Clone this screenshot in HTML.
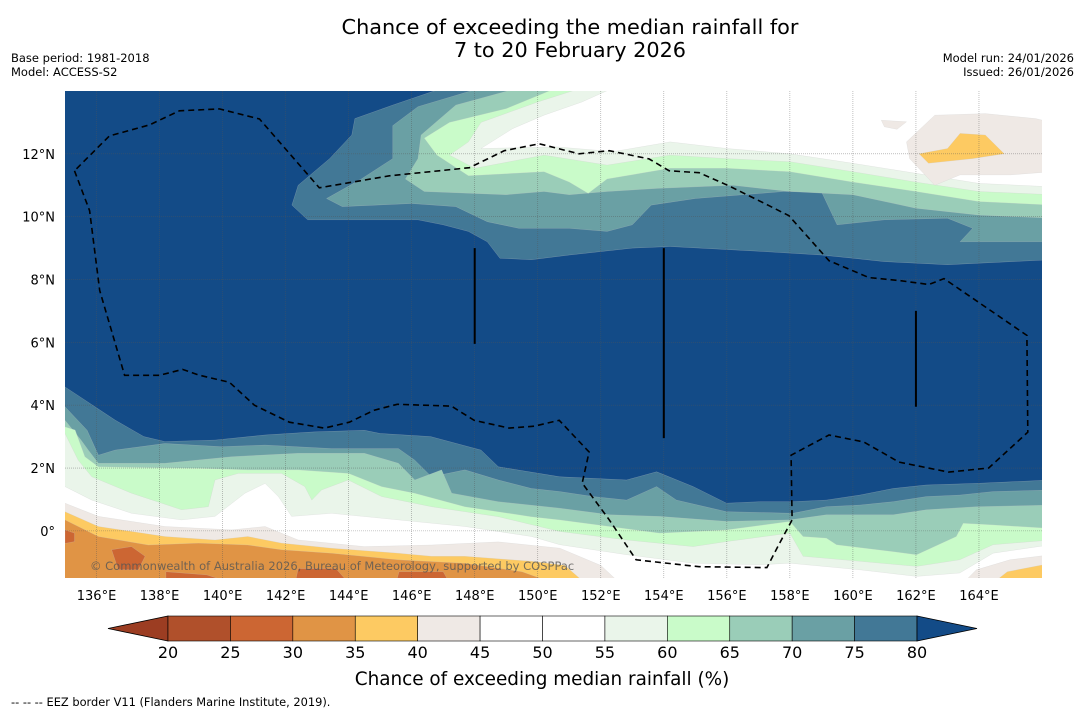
<!DOCTYPE html>
<html><head><meta charset="utf-8"><style>
body{margin:0;background:#fff;}
svg text{font-family:"DejaVu Sans","Liberation Sans",sans-serif;}
</style></head><body>
<svg id="c" width="1085" height="713" viewBox="0 0 1085 713" xmlns="http://www.w3.org/2000/svg">
<text x="570" y="34" font-size="20.8" text-anchor="middle">Chance of exceeding the median rainfall for</text>
<text x="570" y="57" font-size="20.8" text-anchor="middle">7 to 20 February 2026</text>
<text x="11" y="62" font-size="11.5">Base period: 1981-2018</text>
<text x="11" y="76" font-size="11.5">Model: ACCESS-S2</text>
<text x="1074" y="62" font-size="11.5" text-anchor="end">Model run: 24/01/2026</text>
<text x="1074" y="76" font-size="11.5" text-anchor="end">Issued: 26/01/2026</text>
<defs><clipPath id="mc"><rect x="65" y="91" width="977" height="487"/></clipPath></defs>
<g id="map" clip-path="url(#mc)"></g>
<g id="axes"></g>
<g id="cbar"></g>
<text x="542" y="685" font-size="18.4" text-anchor="middle">Chance of exceeding median rainfall (%)</text>
<text x="11" y="706" font-size="11.4">--  --  -- EEZ border V11 (Flanders Marine Institute, 2019).</text>
</svg>
<script>
const bandLabels=[20,25,30,35,40,45,50,55,60,65,70,75,80];
const bandColors=["#b0502b","#cc6633","#e09445","#fdca62","#efe9e5","#ffffff","#ffffff","#eaf5ea","#c9fbc9","#9acdb8","#6aa0a4","#427896"];
const lonTicks=[136,138,140,142,144,146,148,150,152,154,156,158,160,162,164];
const latTicks=[12,10,8,6,4,2,0];
// north contours [lon,lat]
const N80=[[147,14.1],[145.4,13.55],[144.2,13.12],[144.1,12.6],[143.4,11.85],[142.4,11.0],[142.2,10.37],[142.7,9.9],[146.2,9.9],[147,9.74],[147.8,9.53],[148.4,9.2],[148.8,8.68],[149.8,8.63],[151,8.78],[153,9.0],[154.2,9.05],[157,8.9],[159,8.78],[160,8.68],[161,8.57],[163,8.47],[166.3,8.63]];
const N75=[[148.2,14.1],[146.2,13.5],[145.4,12.9],[145.4,11.85],[144.4,11.2],[143.3,10.58],[143.8,10.32],[146,10.42],[147.4,10.32],[148.4,9.84],[149.4,9.63],[151,9.63],[152.2,9.53],[153,9.74],[153.6,10.37],[155,10.58],[157.8,10.8],[159,10.8],[159.5,9.74],[161,9.9],[163,9.95],[163.8,9.63],[163.4,9.2],[166.3,9.2]];
const N70=[[149.4,14.1],[147.4,13.55],[146.3,12.6],[146.2,11.85],[145.8,11.2],[146.4,10.8],[149,10.7],[150.2,10.8],[151,10.7],[152.2,10.8],[153.8,10.9],[156.2,11.0],[158,10.8],[160,10.7],[162,10.27],[164,10.05],[166.3,9.95]];
const N65=[[150.6,14.1],[149,13.44],[147.2,13.0],[146.4,12.5],[146.8,11.96],[147.8,11.3],[150.2,11.43],[151,11.1],[151.6,10.74],[152.2,11.2],[154.2,11.54],[156,11.54],[158,11.43],[160,11.1],[162,10.8],[164,10.48],[166.3,10.37]];
const N60=[[151.4,14.1],[150,13.65],[148.2,13.0],[147.8,12.38],[147.2,11.96],[148,11.54],[150.2,11.96],[152.2,11.64],[154.2,11.96],[156,11.85],[158,11.75],[160,11.43],[162,11.1],[164,10.8],[166.3,10.7]];
const N55=[[152.4,14.1],[151.4,13.65],[150.2,13.23],[149.2,12.8],[148.2,12.17],[150.6,12.22],[152.4,12.07],[154.2,12.38],[156,12.17],[158,12.0],[160,11.7],[162,11.38],[164,11.06],[166.3,10.95]];
const N45a=[[162.6,13.23],[164.2,13.28],[165.8,13.12],[166.3,13.0],[166.3,11.43],[165,11.33],[163.4,11.33],[162.6,11.0],[161.8,11.85],[161.7,12.38]];
const N45b=[[160.9,13.07],[161.7,13.02],[161.4,12.78],[161,12.86]];
const N40=[[163.4,12.65],[164.2,12.6],[164.8,12.0],[163.8,11.85],[162.4,11.7],[162.1,12.0],[163,12.17]];
// south contours
const S80=[[135,4.58],[135.8,4.05],[136.6,3.52],[137.5,3.0],[138.17,2.84],[139.76,2.89],[141.35,3.05],[142.9,3.15],[144.5,3.2],[145,3.1],[146.6,3.0],[148.2,2.57],[148.75,2.04],[150.7,1.72],[151.76,1.67],[152.82,1.62],[153.77,1.88],[154.93,1.41],[155.99,0.88],[157.05,0.93],[158.1,0.93],[159.16,0.98],[160.22,1.14],[161.28,1.35],[162.33,1.46],[163.92,1.51],[166.3,1.62]];
const S75=[[135,3.95],[135.7,3.2],[136.06,2.41],[136.59,2.57],[138.17,2.78],[139.97,2.68],[141.35,2.73],[143.46,2.62],[145.58,2.62],[146.1,2.25],[146.63,1.72],[147.69,1.94],[148.75,1.62],[149.8,1.35],[150.7,1.25],[151.76,1.09],[152.82,0.98],[153.77,1.41],[154.4,0.98],[155.99,0.61],[158.1,0.56],[159.16,0.77],[160.22,0.82],[161.28,0.93],[162.33,1.09],[163.39,1.14],[164.45,1.25],[166.3,1.3]];
const S70=[[135,3.52],[135.5,2.9],[135.74,2.57],[136.06,2.15],[138.17,2.15],[140.29,2.36],[142.4,2.47],[144.5,2.47],[145.58,2.15],[146.1,1.62],[146.95,1.94],[147.27,1.2],[148.75,0.93],[150.7,0.72],[152.29,0.51],[153.87,0.46],[155.99,0.3],[158,0.35],[159.16,0.51],[161.28,0.51],[162.33,0.67],[163.92,0.77],[166.3,0.82]];
const S65=[[135,3.31],[135.32,3.21],[135.63,2.36],[136.06,2.04],[139.23,1.99],[140.8,1.94],[142.4,1.94],[144,1.83],[145.05,1.41],[146.1,1.2],[147.69,0.77],[149.8,0.45],[150.7,0.35],[152.29,0.14],[153.87,-0.07],[155.99,0.03],[158,0.3],[158.42,-0.18],[159.16,-0.23],[159.48,-0.44],[161.28,-0.66],[162.02,-0.76],[163.28,-0.18],[163.5,0.24],[164.45,0.19],[166.3,0.08]];
const S60=[[135,3.1],[135.42,2.25],[135.85,1.72],[137.11,1.2],[138.7,0.67],[139.55,0.77],[139.76,1.62],[140.5,1.83],[141.87,1.83],[142.61,1.41],[142.83,0.98],[143.14,1.3],[143.99,1.62],[145.05,1.09],[146.63,0.77],[148.75,0.45],[150.7,-0.02],[152.82,-0.29],[154.93,-0.5],[155.99,-0.34],[158,-0.07],[158.42,-0.81],[160.22,-0.97],[162.02,-1.13],[163.39,-0.92],[164.45,-0.44],[166.3,-0.29]];
const S55=[[135,1.41],[135.85,0.98],[137.11,0.56],[138.7,0.35],[139.76,0.46],[140.71,1.2],[141.35,1.51],[141.77,1.09],[142.19,0.46],[143.46,0.56],[145.58,0.35],[147.69,0.14],[149.8,-0.18],[150.7,-0.44],[152.82,-0.76],[154.93,-1.03],[157.05,-1.08],[158,-1.03],[160.22,-1.24],[162.02,-1.45],[163.39,-1.34],[164.45,-0.71],[166.3,-0.44]];
const S45=[[135,0.88],[136.06,0.46],[138.17,0.14],[140.29,0.03],[141.35,0.14],[142.4,-0.29],[144.5,-0.5],[146.63,-0.45],[148.75,-0.35],[150.7,-0.55],[152,-1.1],[152.6,-1.66]];
const S45r=[[163.5,-1.66],[163.92,-1.24],[164.98,-0.92],[166.3,-0.76]];
const S40=[[135,0.61],[136.06,0.14],[138.17,-0.18],[139.76,-0.29],[140.8,-0.18],[141.87,-0.39],[143.46,-0.55],[145.58,-0.71],[146.63,-0.81],[147.69,-0.81],[149.8,-0.97],[150.86,-1.1],[151.5,-1.66]];
const S40r=[[164.45,-1.66],[164.9,-1.3],[166.3,-1.03]];
const S35=[[135,0.35],[136.06,-0.18],[137.64,-0.45],[139.23,-0.39],[140.8,-0.45],[141.87,-0.6],[143.46,-0.71],[145.58,-0.92],[147.69,-1.03],[149.5,-1.3],[150.5,-1.66]];
const S30a=[[135,0.03],[135.3,-0.07],[135.3,-0.34],[135,-0.4]];
const S30b=[[136.48,-0.6],[137.11,-0.5],[137.54,-0.81],[137.33,-1.24],[136.69,-1.24]];
const S30c=[[138.2,-1.3],[139.5,-1.4],[140.3,-1.66],[138.2,-1.66]];
const S30d=[[142.4,-1.2],[143.6,-1.2],[144,-1.66],[142.3,-1.66]];
const S30e=[[145.6,-1.3],[147,-1.3],[147.2,-1.66],[145.5,-1.66]];
const EEZ=[[135.3,11.46],[135.78,10.19],[136.1,7.65],[136.89,4.95],[138,4.95],[138.73,5.14],[139.27,4.95],[140.22,4.73],[141.01,4.0],[142.12,3.46],[143.23,3.27],[144.02,3.46],[144.81,3.84],[145.54,4.03],[147.26,3.97],[147.98,3.52],[149.09,3.27],[149.89,3.33],[150.68,3.52],[151.63,2.51],[151.41,1.52],[152.27,0.35],[153.12,-0.92],[154.01,-1.02],[155.12,-1.14],[157.27,-1.17],[157.65,-0.44],[158.07,0.35],[158.04,2.41],[159.24,3.05],[160.35,2.83],[161.46,2.19],[163.04,1.87],[164.31,2.0],[165.55,3.14],[165.52,6.22],[162.89,8.03],[162.41,7.84],[161.46,7.97],[160.51,8.06],[159.24,8.6],[157.97,10.03],[157.34,10.35],[156.07,10.98],[155.12,11.4],[154.17,11.46],[153.53,11.84],[152.27,12.1],[151.31,12.0],[150.05,12.32],[148.94,12.1],[147.83,11.56],[145.29,11.3],[143.07,10.92],[141.17,13.11],[139.9,13.43],[138.63,13.37],[137.68,12.92],[136.41,12.57],[135.3,11.46]];
const vLines=[[148,9.0,5.95],[154,9.0,2.95],[162,7.0,3.95]];

const NS="http://www.w3.org/2000/svg";
function X(lon){return 65+(lon-135)*(977/31);}
function Y(lat){return 91+(14-lat)*(487/15.5);}
function mk(tag,attrs,parent){const e=document.createElementNS(NS,tag);for(const k in attrs)e.setAttribute(k,attrs[k]);parent.appendChild(e);return e;}
function pts(a){return a.map(p=>X(p[0]).toFixed(1)+","+Y(p[1]).toFixed(1)).join(" ");}
const map=document.getElementById('map');
let bg=mk('rect',{x:65,y:91,width:977,height:487,fill:"#134b87"},map);


function north(a){const f=a[0],l=a[a.length-1];return a.concat([[166.6,l[1]],[166.6,14.6],[f[0],14.6]]);}
function south(a){const f=a[0],l=a[a.length-1];return [[134.5,f[1]]].concat(a,[[166.6,l[1]],[166.6,-2.3],[134.5,-2.3]]);}
function southL(a){const f=a[0],l=a[a.length-1];return [[134.5,f[1]]].concat(a,[[l[0],-2.3],[134.5,-2.3]]);}
function southR(a){const f=a[0],l=a[a.length-1];return a.concat([[166.6,l[1]],[166.6,-2.3],[f[0],-2.3]]);}
function poly(a,col,name){const p=mk('polygon',{points:pts(a),fill:col,stroke:"#c8c8c8","stroke-width":0.4,"stroke-opacity":0.5},map);

}
const layers=[
[north(N80),bandColors[11],'north-band-75-80'],[north(N75),bandColors[10],'north-band-70-75'],[north(N70),bandColors[9],'north-band-65-70'],
[north(N65),bandColors[8],'north-band-60-65'],[north(N60),bandColors[7],'north-band-55-60'],[north(N55),bandColors[6],'north-band-below-55'],
[N45a,bandColors[4],'north-band-40-45'],[N45b,bandColors[4],'north-band-40-45-small'],[N40,bandColors[3],'north-band-35-40'],
[south(S80),bandColors[11],'south-band-75-80'],[south(S75),bandColors[10],'south-band-70-75'],[south(S70),bandColors[9],'south-band-65-70'],
[south(S65),bandColors[8],'south-band-60-65'],[south(S60),bandColors[7],'south-band-55-60'],[south(S55),bandColors[6],'south-band-below-55'],
[southL(S45),bandColors[4],'south-band-40-45'],[southR(S45r),bandColors[4],'south-band-40-45-east'],
[southL(S40),bandColors[3],'south-band-35-40'],[southR(S40r),bandColors[3],'south-band-35-40-east'],
[southL(S35),bandColors[2],'south-band-30-35'],[S30a,bandColors[1],'south-band-25-30-a'],[S30b,bandColors[1],'south-band-25-30-b'],
[S30c,bandColors[1],'south-band-25-30-c'],[S30d,bandColors[1],'south-band-25-30-d'],[S30e,bandColors[1],'south-band-25-30-e']];
layers.forEach(l=>poly(l[0],l[1],l[2]));
lonTicks.forEach(v=>{const g=mk('line',{x1:X(v),x2:X(v),y1:91,y2:578,stroke:"#555","stroke-width":0.6,"stroke-dasharray":"1,1","stroke-opacity":0.6},map);

});
latTicks.forEach(v=>{const g=mk('line',{x1:65,x2:1042,y1:Y(v),y2:Y(v),stroke:"#555","stroke-width":0.6,"stroke-dasharray":"1,1","stroke-opacity":0.6},map);

});
vLines.forEach(v=>{const g=mk('line',{x1:X(v[0]),x2:X(v[0]),y1:Y(v[1]),y2:Y(v[2]),stroke:"#000","stroke-width":2},map);

});
const ez=mk('polyline',{points:pts(EEZ),fill:"none",stroke:"#000","stroke-width":1.6,"stroke-dasharray":"6,4"},map);


const cp=mk('text',{x:90,y:570,"font-size":11.5,fill:"#555","fill-opacity":0.8},map);
cp.textContent="© Commonwealth of Australia 2026, Bureau of Meteorology, supported by COSPPac";


const ax=document.getElementById('axes');
lonTicks.forEach(v=>{const t=mk('text',{x:X(v),y:600,"font-size":13,"text-anchor":"middle"},ax);t.textContent=v+"°E";

});
latTicks.forEach(v=>{const t=mk('text',{x:55,y:Y(v)+5,"font-size":13,"text-anchor":"end"},ax);t.textContent=v===0?"0°":v+"°N";

});
const cb=document.getElementById('cbar');
const cx0=168,cw=(917-168)/12,cy=616,ch=25;
const la=mk('polygon',{points:`108,${cy+ch/2} ${cx0},${cy} ${cx0},${cy+ch}`,fill:"#9c3d22",stroke:"#000","stroke-width":0.8},cb);


bandColors.forEach((c,i)=>{const r=mk('rect',{x:cx0+i*cw,y:cy,width:cw,height:ch,fill:c,stroke:"#000","stroke-width":0.6},cb);

});
const ra=mk('polygon',{points:`917,${cy} 977,${cy+ch/2} 917,${cy+ch}`,fill:"#134b87",stroke:"#000","stroke-width":0.8},cb);


bandLabels.forEach((v,i)=>{const t=mk('text',{x:cx0+i*cw,y:658,"font-size":16,"text-anchor":"middle"},cb);t.textContent=v;

});
</script>
</body></html>
